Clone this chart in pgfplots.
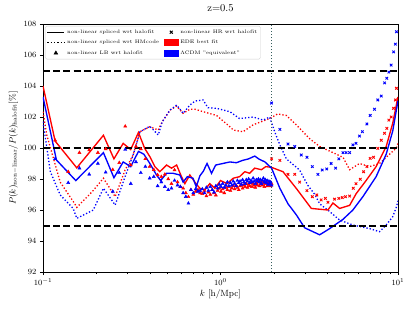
\documentclass[border=0pt]{standalone}
\usepackage{pgfplots}
\pgfplotsset{compat=1.18}
\usepackage{pgfplotstable}
\definecolor{dsg}{RGB}{55,95,95}

% spliced wrt halofit (solid)
\pgfplotstableread{
k y
0.100 104.0
0.117 100.45
0.155 98.72
0.219 100.82
0.251 99.30
0.283 100.30
0.312 99.90
0.345 101.0
0.374 99.98
0.400 99.44
0.427 98.80
0.455 98.47
0.497 98.90
0.530 98.70
0.566 98.90
0.603 98.15
0.630 97.70
0.672 98.26
0.717 97.80
0.765 97.40
0.816 97.30
0.870 97.70
0.930 97.40
1.000 97.90
1.090 97.70
1.180 98.05
1.280 98.15
1.370 98.47
1.460 98.37
1.560 98.70
1.700 98.60
1.800 98.80
1.940 98.75
2.250 98.47
2.670 97.40
3.250 96.10
4.030 96.00
4.300 96.45
4.690 96.10
5.340 96.30
5.810 97.05
6.610 97.90
7.530 98.80
8.580 100.10
9.340 101.60
10.00 103.30
}\solidred
\pgfplotstableread{
k y
0.100 103.30
0.119 99.23
0.153 97.90
0.219 99.70
0.251 98.08
0.283 99.10
0.312 98.80
0.345 99.78
0.370 99.60
0.400 99.00
0.436 98.26
0.460 97.90
0.497 98.37
0.540 98.37
0.590 98.26
0.616 97.80
0.650 98.15
0.700 98.05
0.730 97.50
0.765 98.20
0.800 98.50
0.840 99.00
0.890 98.37
0.940 98.90
1.030 99.00
1.130 99.10
1.230 99.05
1.330 99.20
1.440 99.30
1.560 99.48
1.640 99.30
1.780 99.10
1.940 98.70
2.160 97.40
2.400 96.40
2.670 95.70
2.980 94.85
3.180 94.70
3.620 94.40
4.120 94.80
4.900 95.40
5.570 96.00
6.340 96.86
7.530 98.15
8.580 99.60
9.340 101.10
10.00 103.05
}\solidblue
% spliced wrt HMcode (dotted)
\pgfplotstableread{
k y
0.100 102.34
0.105 100.84
0.125 97.80
0.151 96.40
0.155 96.17
0.190 97.20
0.219 98.05
0.255 96.86
0.290 98.58
0.322 99.55
0.352 101.05
0.400 101.37
0.446 101.16
0.470 101.70
0.520 102.45
0.566 102.70
0.616 102.24
0.672 102.50
0.720 102.50
0.800 102.34
0.950 102.10
1.130 101.37
1.180 101.16
1.340 101.05
1.530 101.50
1.890 101.90
2.100 102.20
2.350 102.10
2.670 101.50
3.180 100.60
3.620 100.10
4.120 99.80
4.900 99.40
5.340 98.60
6.070 99.00
6.920 98.80
7.870 99.00
8.580 99.40
9.800 100.00
10.00 100.30
}\dotred
\pgfplotstableread{
k y
0.100 101.70
0.110 98.47
0.125 96.97
0.148 96.10
0.155 95.46
0.192 96.00
0.219 97.40
0.255 96.32
0.290 98.15
0.322 99.55
0.352 101.05
0.400 101.40
0.446 100.84
0.470 101.70
0.520 102.45
0.566 102.77
0.616 102.24
0.672 102.77
0.720 103.03
0.798 103.10
0.850 102.60
0.950 102.56
1.130 102.34
1.280 101.90
1.530 102.00
1.740 101.80
1.890 102.00
2.020 101.05
2.160 100.20
2.350 99.30
2.790 98.58
3.100 97.60
3.400 97.00
3.620 96.40
4.120 95.90
4.690 95.35
5.570 95.03
6.920 94.80
7.870 94.60
8.580 95.03
9.340 95.57
9.800 96.20
10.00 96.60
}\dotblue
% LB wrt halofit (triangles)
\pgfplotstableread{
k r b
0.1170 100.50 99.30
0.1387 98.47 97.76
0.1604 99.70 98.70
0.1821 99.87 98.30
0.2038 99.70 99.00
0.2255 99.94 98.43
0.2472 98.60 97.20
0.2689 99.05 98.40
0.2906 101.40 99.90
0.3123 98.90 97.70
0.3340 100.10 99.10
0.3557 99.94 98.40
0.3774 99.30 98.80
0.3991 98.80 98.05
0.4208 98.60 98.15
0.4425 98.26 97.55
0.4642 98.15 97.80
0.4859 98.30 97.50
0.5076 98.00 97.30
0.5293 97.70 97.40
0.5510 98.58 97.90
0.5727 97.80 97.60
0.5944 97.50 97.50
0.6161 97.40 97.10
0.6378 97.10 96.86
0.6595 96.85 96.43
0.6812 97.30 97.30
0.7029 97.00 97.10
0.7246 97.20 97.35
0.7463 97.30 97.20
0.7680 97.10 97.25
0.7897 97.05 97.35
0.8114 97.25 97.10
0.8331 96.90 97.45
0.8548 97.15 97.25
0.8765 97.00 97.50
0.8982 97.30 97.30
0.9199 97.10 97.15
0.9416 96.95 97.55
0.9633 97.25 97.40
0.9850 97.40 97.65
1.0067 97.20 97.50
1.0284 97.35 97.70
1.0501 97.10 97.45
1.0718 97.45 97.60
1.0935 97.30 97.80
1.1152 97.50 97.55
1.1369 97.25 97.75
1.1586 97.40 97.60
1.1803 97.55 97.85
1.2020 97.35 97.70
1.2237 97.60 97.55
1.2454 97.45 97.90
1.2671 97.30 97.75
1.2888 97.55 97.85
1.3105 97.65 97.65
1.3322 97.40 97.95
1.3539 97.60 97.80
1.3756 97.50 97.70
1.3973 97.70 97.95
1.4190 97.45 97.85
1.4407 97.65 98.00
1.4624 97.55 97.75
1.4841 97.75 97.90
1.5058 97.50 97.80
1.5275 97.70 98.05
1.5492 97.60 97.85
1.5709 97.45 97.70
1.5926 97.75 97.95
1.6143 97.60 97.85
1.6360 97.80 98.00
1.6577 97.55 97.80
1.6794 97.70 97.95
1.7011 97.85 97.70
1.7228 97.60 97.90
1.7445 97.75 98.05
1.7662 97.50 97.80
1.7879 97.70 97.95
1.8096 97.80 97.75
1.8313 97.55 97.90
1.8530 97.75 97.65
1.8747 97.60 97.85
1.8964 97.80 97.70
1.9181 97.55 97.80
1.9398 97.70 97.60
}\lb
% HR wrt halofit (crosses)
\pgfplotstableread{
k y
1.94 99.30
2.16 99.20
2.40 98.30
2.62 98.30
2.79 97.80
3.07 97.25
3.29 96.86
3.49 96.97
3.69 96.65
3.90 96.75
4.03 96.50
4.39 96.70
4.64 96.75
4.85 96.80
5.06 96.86
5.34 96.90
5.60 97.40
5.80 97.70
6.13 97.98
6.40 98.47
6.68 98.80
6.97 99.33
7.28 99.40
7.70 99.98
8.05 100.50
8.40 100.95
8.65 101.27
8.88 101.80
9.15 102.00
9.44 102.56
9.67 103.10
9.80 103.85
}\hrred
\pgfplotstableread{
k y
1.94 102.90
2.16 101.20
2.40 100.26
2.62 100.10
2.85 99.55
3.07 99.40
3.29 98.80
3.54 98.30
3.74 98.58
3.97 98.65
4.20 99.00
4.45 98.70
4.64 99.30
4.90 99.70
5.10 99.70
5.34 99.70
5.57 100.20
5.80 100.30
6.07 100.77
6.30 101.05
6.68 101.55
6.97 102.10
7.37 102.50
7.70 103.10
8.05 103.35
8.40 104.20
8.65 104.50
8.88 104.90
9.15 105.35
9.44 106.20
9.67 106.70
9.80 107.50
}\hrblue

\begin{document}
\begin{tikzpicture}
\path[use as bounding box] (-43pt,-39pt) rectangle (371pt,272pt);
\begin{axis}[
  at={(0,0)}, anchor=south west,
  scale only axis, width=355pt, height=248pt,
  xmode=log, xmin=0.1, xmax=10, ymin=92, ymax=108,
  ytick={92,94,...,108},
  tick pos=left, tick align=outside,
  major tick length=3.2pt, minor tick length=2pt,
  every tick/.style={black, line width=0.7pt},
  axis line style={line width=0.8pt},
  ticklabel style={font=\fontsize{8.5}{10}\selectfont},
  title={z=0.5},
  title style={at={(axis description cs:0.5,1)}, anchor=south, inner sep=0pt, yshift=6.5pt, font=\fontsize{10.5}{12}\selectfont},
  xlabel={$k$ [h/Mpc]},
  xlabel style={at={(axis description cs:0.5,0)}, anchor=north, inner sep=0pt, yshift=-18pt, font=\fontsize{9}{10}\selectfont},
  ylabel={$P(k)_{\rm non-linear}/P(k)_{\rm halofit}$[\%]},
  ylabel style={at={(axis description cs:-0.0704,0.5)}, anchor=south, inner sep=0pt, font=\fontsize{9}{10}\selectfont},
  legend style={at={(axis description cs:0.0056,0.992)}, anchor=north west,
    font=\fontsize{5}{6}\selectfont, draw=black!18, rounded corners=1.5pt,
    fill=white, inner sep=1.5pt,
    row sep=1.4pt,
    /tikz/every even column/.append style={column sep=3pt}},
  legend columns=2, legend cell align=left,
]
\addlegendimage{black, line width=1.3pt, sharp corners}
\addlegendentry{non-linear spliced wrt halofit}
\addlegendimage{only marks, mark=x, mark size=2pt, black, mark options={line width=1pt, sharp corners}}
\addlegendentry{non-linear HR wrt halofit}
\addlegendimage{black, line width=1.3pt, dash pattern=on 1.3pt off 2pt, sharp corners}
\addlegendentry{non-linear spliced wrt HMcode}
\addlegendimage{legend image code/.code={\fill[red, sharp corners] (0.06cm,-0.1cm) rectangle (0.54cm,0.11cm);}}
\addlegendentry{EDE best fit}
\addlegendimage{only marks, mark=triangle*, mark size=2.2pt, black, mark options={sharp corners}}
\addlegendentry{non-linear LB wrt halofit}
\addlegendimage{legend image code/.code={\fill[blue, sharp corners] (0.06cm,-0.1cm) rectangle (0.54cm,0.11cm);}}
\addlegendentry{$\Lambda$CDM "equivalent"}

% triangles
\addplot[forget plot, only marks, mark=triangle*, mark size=1.8pt, red] table[x=k, y=r] {\lb};
\addplot[forget plot, only marks, mark=triangle*, mark size=1.8pt, blue] table[x=k, y=b] {\lb};
% crosses
\addplot[forget plot, only marks, mark=x, mark size=1.8pt, red, mark options={line width=0.9pt}] table[x=k, y=y] {\hrred};
\addplot[forget plot, only marks, mark=x, mark size=1.8pt, blue, mark options={line width=0.9pt}] table[x=k, y=y] {\hrblue};
% dotted
\addplot[forget plot, red, line width=1.3pt, dash pattern=on 1.3pt off 2pt] table[x=k, y=y] {\dotred};
\addplot[forget plot, blue, line width=1.3pt, dash pattern=on 1.3pt off 2pt] table[x=k, y=y] {\dotblue};
% solid
\addplot[forget plot, red, line width=1.35pt] table[x=k, y=y] {\solidred};
\addplot[forget plot, blue, line width=1.35pt] table[x=k, y=y] {\solidblue};
% reference lines
\addplot[forget plot, black, line width=2pt, dash pattern=on 7pt off 3.2pt] coordinates {(0.1,100) (10,100)};
\addplot[forget plot, black, line width=2pt, dash pattern=on 7pt off 3.2pt] coordinates {(0.1,95) (10,95)};
\addplot[forget plot, black, line width=2pt, dash pattern=on 7pt off 3.2pt] coordinates {(0.1,105) (10,105)};
\addplot[forget plot, dsg, line width=1.2pt, dash pattern=on 1.2pt off 1.8pt] coordinates {(1.94,92) (1.94,108)};
\end{axis}
\end{tikzpicture}
\end{document}
